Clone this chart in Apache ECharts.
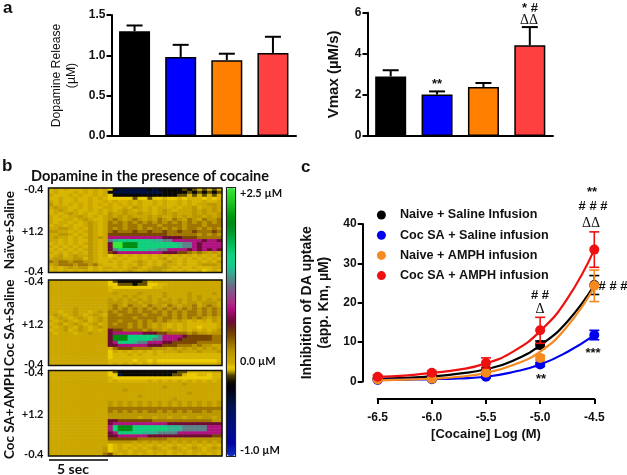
<!DOCTYPE html>
<html>
<head>
<meta charset="utf-8">
<title>Dopamine release and uptake</title>
<script src="https://cdn.jsdelivr.net/npm/echarts@6/dist/echarts.min.js"></script>
<style>html,body{margin:0;background:#fff}#chart{width:627px;height:475px}</style>
</head>
<body>
<div id="chart"></div>
<script>
// panel a
var groupNames = ['Naive + Saline', 'Coc SA + Saline', 'Naive + AMPH', 'Coc SA + AMPH'];
var barColors = ['#000000', '#0000ff', '#ff8000', '#ff4040'];
var releaseMean = [1.30, 0.98, 0.94, 1.03];
var releaseTop = [1.37, 1.13, 1.02, 1.23];
var vmaxMean = [2.9, 2.02, 2.38, 4.42];
var vmaxTop = [3.2, 2.17, 2.58, 5.3];

// panel b: one character per cell, levelChars[i] means levelValues[i] in uM
var levelChars = 'Ggtuempbdc.yYokn';
var levelValues = [2.5, 2.0, 1.55, 1.3, 1.15, 0.77, 0.57, 0.38, 0.24, 0.12, 0, -0.03, -0.08, -0.14, -0.22, -0.43];
var naiveSaline = [
  'y.y.yyy.y.y.Yknnnnnnknkkkkkokoyoyoy',
  'y.yyy.y.y.y.knnnnnnnnnnkkkkkokokoko',
  '.yyy.y.yy.y.Ykkkkkkkkkkkkkooyoyoyoy',
  'yy.yy.yy.y.yYYYYYoYYoYYyYYyYyyyYyYy',
  '.y.yy.yy.yy.y.yy.y.yy.y.yy.y.yy.yy.',
  'cy.y.y.y.y.y.y.y.y.yy.y.yy.y.y..cc.',
  '.c..yy.y.yy..yy.yc.y.y..y.y..cy..c.',
  'y.c.y.yy.y.y.y.c.y.y.y.c.y...c.c.c.',
  'y.y.c.y.yy.yc..c..c..y.c.c...c.c..c',
  '.y.y..c.y.y.c.c.c...c.c..c.c.cc.c.c',
  '.yy..y.c.yy.cdc.cdc.c.dc.dc.dc.dccd',
  '.y..y.y.c.y.dcdcdcdcdcdcdcdcdcdcdcd',
  'y..y.yy.c.y.dddcddcdddcddddcdddcddd',
  '..cc.y.yc.y.dcdcddcdcddcdcdcddcdcdc',
  'cc..y.y.c.y.dbdddbddbddbddbddbdddbd',
  '..cc.y.yc.y.bbbbbbbbbbbbddddddcdcdc',
  '.c..y.y.c.c.mmmmmmmmmmmppppbbbddddd',
  '..y.y.yyc.y.eutttttttuueemmmmmmpmmp',
  'y.y.y.y.c.y.pGGgggttttttttueempmmmm',
  '.y.y.y.yc.y.pGGgggttttttttueempmmmm',
  'y.y.y.y.c.y.pettttttuueemmmmpmpmpmp',
  '.y.y.y.yc.y.bpmmmmmmmmmpppbbdcdc.c.',
  'y.cy.c..c.y.Yy.y.y.y.y.y.y.y.y.y.yc',
  '.cc..ccyc.yyy.y.yy.y.y.cy.y.y.y.y.y',
  'dcddcddcc.yy.y.yy.c.y.y.c.y.yy.y.yc',
  '.cdddcddcd.yyy.y.yc.y.yc..y.yy.ccc.',
  'y.y.c.ccy.y..y.y.c.y.ccc.y.yy.yyy..',
  'y.y.y.y.y.y.y.y.c.y.ccc.y.y.yy.Yy.y'
];
var cocSaline = [
  '............Yokkkkkoy..............',
  '............YYoookooYYyy...........',
  '............yYYYYYYYYyy............',
  '............y......................',
  '.............c....c....c....c....c.',
  '...............c.c..c..c....c.c....',
  '............c.c.c.c.c.c.c.c.c.c.c.c',
  '............ccc.cc.cc.ccc.c.cc.ccc.',
  '............cdc.dcc.dcc.dc.ccd.cdc.',
  '.....c......cdcdcdcdcdcdcdcdcdcdcdc',
  '..y..c..y.c.dcddcdcddcdcdcdcddcdcdc',
  '.c.y.c.y.c.yddcddddcdddcdcdcddcdcdc',
  'y.c.y.c.y.c.dddddcddddcddcdcdcdc.c.',
  '.y.c.y.cy.c.ddcdddcdcdcdc.c.y.y.yc.',
  'y.cy.c.y.cy.dcddcdcdc.c.y.y.yyyyyy.',
  '.y.c.yc.y.c.ddddcdcdc.c.y.y.yyYyyy.',
  'y..cy.c.y.y.pbbddddcdcc.c.y.y.y.y.c',
  '.y...y..c...pmmmmmmpppbbddddcdcc.cc',
  '............pgggttttttemmmmpbbbbbdd',
  '............pgggttttteemmmpbbbbbbdd',
  '............pmtttueemmmppbbbbbddddd',
  '............ppmmmmmmpppbbbdddcdcc..',
  '............ydbbbddddccc.c.c.c.c.c.',
  '............Y.y.y.y.y.y...c...c...c',
  '............Yyyy.y.yy.yyyyyyyyyyyyy',
  '............Yyyyyyyyyyyyyyyyyyyyyyy',
  '............yyyyyYyyYyYYYYYYYYYYYYy',
  '............y.y.y.y.y.yyyyyyyyyyyy.'
];
var cocAmph = [
  '............Yokkkkkkkkkkkkooyyyyy..',
  '............YYnkkkkkkkkkkooyYYyyYyy',
  '............yYYYYYYYYYYYYYYYYYYYYyy',
  '............y.yyyyyy.y.y.y.y.y.y.y.',
  '...........................c.......',
  '.......................c...........',
  '...............c...................',
  '............................c......',
  '..................c................',
  '.........................c.........',
  '............c.c.c.c.c.c.c.c.c.c.c.c',
  '............c.c.c.c.c.c.c.c.c.c.c.c',
  '............ddddddddddddddddddddddd',
  '............dcdcdcdcddcdcdcdcddcdcc',
  '............ccccccccccccccccccccccc',
  '............cccccc.cc.cc.cc.cc.cc.c',
  '............ppbbbbbbbddddddddddddcc',
  '............pmmmmmmmmmmmppppppppppp',
  '............mtgggtttttttuuueeeeemmm',
  '............mtgggtttttttuuueeeeemmm',
  '............pmtttttuuueeeemmmmmmmmm',
  '............ppmmmmmmpppppppppppppbb',
  '............bbbbbbddddddccccccccccc',
  '............ccccc.c.c.c.c.c.c.c.c.c',
  '............Yy.yy.y.y.y.y.y.y.y.y.y',
  '...........cYy.y.y.y.c.y.c.y.c.y.c.',
  '...........cYy..y...y...y...y..y..y',
  '...........db.y.y.y.y.y.y.y.y.y.y.y'
];
// colour bar, top (+2.5) to bottom (-1.0), equal steps along the bar
var barStops = ['#38e838','#2cd82c','#20c820','#10b418','#00a010','#008c10','#009020','#00a038','#00b450','#08c468','#10d080','#14d088','#20c090','#40a090','#5a8088','#786088','#904888','#a83084','#b01080','#900858','#6c0c34','#6a2c10','#7a4800','#966800','#b08a00','#c0a000','#cca800','#f0d000','#504000','#0a0804','#000010','#000828','#001040','#001058','#00106a','#000e78','#000c88','#000a94','#0000a0','#0818b0','#1030c0'];
var depthLabels = {0: '-0.4', 14: '+1.2', 27: '-0.4'};
var barLabels = ['-1.0 µM', '0.0 µM', '+2.5 µM'];
var barLabelValues = [-1, 0, 2.5];

// panel c
var logDose = [-6.5, -6.0, -5.5, -5.0, -4.5];
var curveDose = [-6.5, -6.25, -6.0, -5.75, -5.5, -5.25, -5.0, -4.75, -4.5];
var legendNames = ['Naive + Saline Infusion', 'Coc SA + Saline infusion', 'Naive + AMPH infusion', 'Coc SA + AMPH infusion'];
var lineColors = ['#000000', '#0000ee', '#f58a1f', '#ee1111'];
var pointsBlack = [0.7, 1.3, 3.0, 9.3, 24.5];
var pointsBlue = [0.4, 0.6, 1.2, 4.3, 11.8];
var pointsOrange = [0.5, 0.7, 2.2, 6.0, 24.3];
var pointsRed = [1.2, 2.2, 4.7, 13.0, 33.5];
var errBlack = [0.2, 0.3, 0.5, 1.0, 2.4];
var errBlue = [0.2, 0.2, 0.3, 0.5, 1.2];
var errOrange = [0.2, 0.2, 0.4, 0.6, 4.0];
var errRed = [0.4, 0.4, 1.3, 3.3, 4.5];
var curveBlack = [0.7, 0.9, 1.3, 2.0, 3.1, 5.3, 9.2, 15.2, 24.5];
var curveBlue = [0.4, 0.5, 0.6, 0.8, 1.2, 2.4, 4.3, 7.5, 11.8];
var curveOrange = [0.3, 0.5, 0.7, 1.2, 2.2, 4.2, 7.6, 14.0, 24.0];
var curveRed = [1.2, 1.5, 2.2, 3.0, 4.6, 7.6, 12.8, 21.0, 33.5];

var armFont = '"Liberation Sans", Arial, sans-serif';
var calFont = 'Lato, "Noto Sans", sans-serif';
var serifFont = '"Liberation Serif", serif';

// the colour bar is not linear in uM, zero sits about a third of the way up
var zeroPos = 0.3526;
function barPos(v) {
    return v >= 0 ? zeroPos + (1 - zeroPos) * v / 2.5 : zeroPos * (1 + v);
}

function heatData(rows) {
    var out = [];
    rows.forEach(function (row, r) {
        for (var c = 0; c < row.length; c++) {
            out.push([c, r, barPos(levelValues[levelChars.indexOf(row[c])])]);
        }
    });
    return out;
}

function barErrorItem(params, api) {
    var x = api.value(0);
    var a = api.coord([x, api.value(1)]);
    var b = api.coord([x, api.value(2)]);
    var style = {stroke: '#000', lineWidth: 2, fill: null};
    return {type: 'group', children: [
        {type: 'line', shape: {x1: a[0], y1: a[1], x2: b[0], y2: b[1]}, style: style},
        {type: 'line', shape: {x1: b[0] - 8, y1: b[1], x2: b[0] + 8, y2: b[1]}, style: style}
    ]};
}

function barSeries(xi, mean, top) {
    return [{
        type: 'bar', xAxisIndex: xi, yAxisIndex: xi, barWidth: 31, animation: false,
        data: mean.map(function (v, i) {
            return {value: v, itemStyle: {color: barColors[i], borderColor: '#000', borderWidth: 1.5}};
        })
    }, {
        type: 'custom', xAxisIndex: xi, yAxisIndex: xi, silent: true, renderItem: barErrorItem,
        encode: {x: 0, y: [1, 2]},
        data: mean.map(function (v, i) { return [i, v, top[i]]; })
    }];
}

function doseSeries(k, points, errs, curve) {
    var color = lineColors[k];
    return [{
        type: 'line', xAxisIndex: 6, yAxisIndex: 6, smooth: true, showSymbol: false, silent: true,
        lineStyle: {color: color, width: 2.2}, z: 3 + k,
        data: curveDose.map(function (d, i) { return [d, curve[i]]; })
    }, {
        type: 'custom', xAxisIndex: 6, yAxisIndex: 6, silent: true, z: 3 + k,
        encode: {x: 0, y: [1, 2]},
        renderItem: function (params, api) {
            var x = api.value(0);
            var a = api.coord([x, api.value(1)]);
            var b = api.coord([x, api.value(2)]);
            var style = {stroke: color, lineWidth: 1.6, fill: null};
            return {type: 'group', children: [
                {type: 'line', shape: {x1: a[0], y1: a[1], x2: b[0], y2: b[1]}, style: style},
                {type: 'line', shape: {x1: a[0] - 5, y1: a[1], x2: a[0] + 5, y2: a[1]}, style: style},
                {type: 'line', shape: {x1: b[0] - 5, y1: b[1], x2: b[0] + 5, y2: b[1]}, style: style}
            ]};
        },
        data: logDose.map(function (d, i) { return [d, points[i] - errs[i], points[i] + errs[i]]; })
    }, {
        type: 'scatter', name: legendNames[k], xAxisIndex: 6, yAxisIndex: 6, symbolSize: 10, z: 3 + k,
        itemStyle: {color: color, opacity: 1},
        data: logDose.map(function (d, i) { return [d, points[i]]; })
    }];
}

function heatAxisY(index, name, nameGap) {
    return {
        gridIndex: index, type: 'category', inverse: true,
        data: naiveSaline.map(function (row, r) { return depthLabels[r] || ''; }),
        axisLine: {show: false}, axisTick: {show: false},
        axisLabel: {
            margin: 5, fontFamily: calFont, fontWeight: 'bold', fontSize: 11, color: '#111',
            interval: function (i) { return depthLabels[i] !== undefined; }
        },
        name: name, nameLocation: 'middle', nameRotate: 90, nameGap: nameGap,
        nameTextStyle: {fontFamily: calFont, fontWeight: 'bold', fontSize: 13.5, color: '#111'}
    };
}

function heatAxisX(index) {
    return {gridIndex: index, type: 'category', show: false,
        data: naiveSaline[0].split('').map(function (ch, c) { return c; })};
}

function heatSeries(index, rows) {
    return {
        type: 'heatmap', xAxisIndex: index, yAxisIndex: index, silent: true,
        data: heatData(rows), itemStyle: {borderWidth: 0}, emphasis: {disabled: true}
    };
}

function valueAxis(index, max, interval, digits, name, nameGap, nameStyle) {
    return {
        gridIndex: index, type: 'value', min: 0, max: max, interval: interval,
        splitLine: {show: false},
        axisLine: {show: true, onZero: false, lineStyle: {color: '#000', width: 2}},
        axisTick: {show: true, length: 5, lineStyle: {color: '#000', width: 2}},
        axisLabel: {
            margin: 6, fontFamily: armFont, fontWeight: 'bold', fontSize: 12, color: '#111',
            formatter: function (v) { return v.toFixed(digits); }
        },
        name: name, nameLocation: 'middle', nameRotate: 90, nameGap: nameGap,
        nameTextStyle: nameStyle
    };
}

function categoryAxis(index) {
    return {
        gridIndex: index, type: 'category', data: groupNames,
        axisLine: {lineStyle: {color: '#000', width: 2}},
        axisTick: {show: false}, axisLabel: {show: false}
    };
}

function note(text, x, y, font, align) {
    return {
        type: 'text', x: x, y: y, silent: true,
        style: {text: text, font: font, fill: '#111', align: align || 'center', verticalAlign: 'middle'}
    };
}

var sign = 'bold 13px ' + armFont;
var delta = '14px ' + serifFont;
var notes = [
    note('a', 3, 8, 'bold 17px ' + armFont, 'left'),
    note('b', 2, 166, 'bold 17px ' + armFont, 'left'),
    note('c', 301, 167, 'bold 17px ' + armFont, 'left'),
    note('Dopamine in the presence of cocaine', 150, 176, 'bold 14.5px ' + calFont),
    note('5 sec', 73, 469, 'bold 14px ' + calFont),
    note('* #', 530, 8, sign),
    note('ΔΔ', 529, 20, delta),
    note('**', 437, 84, sign),
    note('**', 592, 192, sign),
    note('# # #', 593, 206, sign),
    note('ΔΔ', 591, 223, delta),
    note('# # #', 613, 286, sign),
    note('# #', 540, 295, sign),
    note('Δ', 540, 309, delta),
    note('**', 541, 379, sign),
    note('***', 593, 353, sign),
    {type: 'line', silent: true, shape: {x1: 49, y1: 460, x2: 108, y2: 460}, style: {stroke: '#000', lineWidth: 1.5}},
    {type: 'rect', silent: true, shape: {x: 226.5, y: 187.5, width: 9, height: 269}, style: {stroke: '#222', lineWidth: 1.2, fill: null}}
];

var option = {
    animation: false,
    backgroundColor: '#fff',
    grid: [
        {left: 111.5, top: 15, width: 184.5, height: 121},
        {left: 367.5, top: 12.7, width: 185.5, height: 123.3},
        {left: 48.5, top: 188, width: 173.5, height: 84.5, show: true, z: 5, backgroundColor: 'transparent', borderColor: '#111', borderWidth: 1.5},
        {left: 48.5, top: 280, width: 173.5, height: 85.5, show: true, z: 5, backgroundColor: 'transparent', borderColor: '#111', borderWidth: 1.5},
        {left: 48.5, top: 370.5, width: 173.5, height: 85.5, show: true, z: 5, backgroundColor: 'transparent', borderColor: '#111', borderWidth: 1.5},
        {left: 227, top: 188, width: 8, height: 268},
        {left: 377.7, top: 224, width: 216.6, height: 157.5}
    ],
    xAxis: [
        categoryAxis(0),
        categoryAxis(1),
        heatAxisX(2), heatAxisX(3), heatAxisX(4),
        {gridIndex: 5, type: 'value', show: false, min: 0, max: 1},
        {
            gridIndex: 6, type: 'value', min: -6.5, max: -4.5, interval: 0.5, offset: 17.5,
            splitLine: {show: false},
            axisLine: {onZero: false, lineStyle: {color: '#000', width: 2}},
            axisTick: {length: 5, lineStyle: {color: '#000', width: 2}},
            axisLabel: {
                margin: 13, fontFamily: armFont, fontWeight: 'bold', fontSize: 12, color: '#111',
                formatter: function (v) { return v.toFixed(1); }
            },
            name: '[Cocaine] Log (M)', nameLocation: 'middle', nameGap: 29,
            nameTextStyle: {fontFamily: armFont, fontWeight: 'bold', fontSize: 13, color: '#111'}
        }
    ],
    yAxis: [
        valueAxis(0, 1.5, 0.5, 1, 'Dopamine Release\n(µM)', 32, {fontFamily: armFont, fontSize: 12.2, color: '#111', lineHeight: 15}),
        valueAxis(1, 6, 2, 0, 'Vmax (µM/s)', 26, {fontFamily: armFont, fontWeight: 'bold', fontSize: 15, color: '#111'}),
        heatAxisY(2, 'Naïve+Saline', 32),
        heatAxisY(3, 'Coc SA+Saline', 32),
        heatAxisY(4, 'Coc SA+AMPH', 32),
        {
            gridIndex: 5, type: 'value', min: 0, max: 1, position: 'right',
            splitLine: {show: false}, axisLine: {show: false}, axisTick: {show: false},
            axisLabel: {
                margin: 5, fontFamily: calFont, fontWeight: 'bold', fontSize: 11, color: '#111',
                customValues: barLabelValues.map(barPos),
                verticalAlignMinLabel: 'bottom', verticalAlignMaxLabel: 'top',
                formatter: function (v) {
                    for (var i = 0; i < barLabelValues.length; i++) {
                        if (Math.abs(barPos(barLabelValues[i]) - v) < 1e-6) return barLabels[i];
                    }
                    return '';
                }
            }
        },
        Object.assign(valueAxis(6, 40, 10, 0, 'Inhibition of DA uptake\n(app. Km, µM)', 30, {fontFamily: armFont, fontWeight: 'bold', fontSize: 14, color: '#111', lineHeight: 17}), {offset: 15})
    ],
    visualMap: {
        type: 'continuous', min: 0, max: 1, dimension: 2, seriesIndex: [4, 5, 6],
        left: 227, top: 188, itemWidth: 8, itemHeight: 268, padding: 0,
        calculable: false, hoverLink: false, showLabel: false, text: null,
        inRange: {color: barStops.slice().reverse()}
    },
    legend: {
        left: 376.9, top: 208, padding: 0, orient: 'vertical', selectedMode: false,
        itemWidth: 27, itemHeight: 9, itemGap: 6.2, icon: 'circle', symbolKeepAspect: true,
        textStyle: {fontFamily: armFont, fontWeight: 'bold', fontSize: 12.6, color: '#111', height: 14, lineHeight: 14},
        data: legendNames
    },
    series: [].concat(
        barSeries(0, releaseMean, releaseTop),
        barSeries(1, vmaxMean, vmaxTop),
        [heatSeries(2, naiveSaline), heatSeries(3, cocSaline), heatSeries(4, cocAmph)],
        doseSeries(0, pointsBlack, errBlack, curveBlack),
        doseSeries(1, pointsBlue, errBlue, curveBlue),
        doseSeries(2, pointsOrange, errOrange, curveOrange),
        doseSeries(3, pointsRed, errRed, curveRed)
    ),
    graphic: {elements: notes}
};

var myChart = echarts.init(document.getElementById('chart'));
myChart.setOption(option);
</script>
</body>
</html>
